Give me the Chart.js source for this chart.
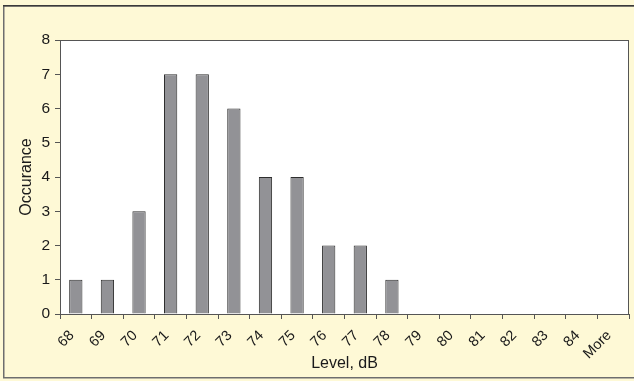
<!DOCTYPE html>
<html>
<head>
<meta charset="utf-8">
<script src="https://cdn.jsdelivr.net/npm/chart.js@4/dist/chart.umd.min.js"></script>
<style>
  html, body { margin: 0; padding: 0; background: #ffffff; }
  #wrap { width: 634px; height: 381px; }
  canvas { display: block; }
</style>
</head>
<body>
<div id="wrap"><canvas id="c" width="634" height="381"></canvas></div>
<script>
// Histogram of measured levels
const levels = ['68', '69', '70', '71', '72', '73', '74', '75', '76', '77', '78', '79', '80', '81', '82', '83', '84', 'More'];
const occurrences = [1, 1, 3, 7, 7, 6, 4, 4, 2, 2, 1, 0, 0, 0, 0, 0, 0, 0];
const yTicks = [0, 1, 2, 3, 4, 5, 6, 7, 8];

const FONT = "'Liberation Sans', Arial, sans-serif";
const TEXT = '#1a1a1a';

// Pale panel behind the whole chart, white plot area and the frames around both
const framePlugin = {
  id: 'frames',
  beforeDraw(chart) {
    const { ctx, chartArea: a } = chart;
    ctx.save();
    ctx.fillStyle = '#fef9d6';
    ctx.fillRect(0, 0, chart.width, chart.height);
    // panel frame runs off the right edge of the canvas
    ctx.strokeStyle = '#6e6e6e';
    ctx.lineWidth = 1.5;
    ctx.strokeRect(3.75, 5.75, chart.width + 10, chart.height - 9);
    ctx.strokeStyle = '#3a3a3a';
    ctx.beginPath();
    ctx.moveTo(3, 5.75);
    ctx.lineTo(chart.width, 5.75);
    ctx.stroke();
    ctx.fillStyle = '#ffffff';
    ctx.fillRect(a.left, a.top, a.right - a.left, a.bottom - a.top);
    ctx.restore();
  },
  afterDatasetsDraw(chart) {
    const { ctx, chartArea: a } = chart;
    ctx.save();
    ctx.strokeStyle = '#555555';
    ctx.lineWidth = 1;
    ctx.strokeRect(a.left + 0.5, a.top + 0.5, a.right - a.left - 1, a.bottom - a.top);
    ctx.restore();
  }
};

new Chart(document.getElementById('c'), {
  type: 'bar',
  data: {
    labels: levels,
    datasets: [{
      data: occurrences,
      backgroundColor: '#929296',
      borderColor: '#2e2e2e',
      borderWidth: 1,
      categoryPercentage: 1,
      barPercentage: 0.42
    }]
  },
  options: {
    responsive: false,
    animation: false,
    layout: { padding: { left: 0, top: 40, right: 5, bottom: 0 } },
    plugins: {
      legend: { display: false },
      tooltip: { enabled: false }
    },
    scales: {
      x: {
        afterFit(scale) { scale.height = 67; },
        grid: {
          display: true,
          drawOnChartArea: false,
          offset: true,
          tickLength: 5,
          color: '#555555'
        },
        border: { display: true, color: '#555555' },
        ticks: {
          autoSkip: false,
          maxRotation: 45,
          minRotation: 45,
          padding: 8,
          labelOffset: -4,
          color: TEXT,
          font: { family: FONT, size: 14.5 }
        },
        title: {
          display: true,
          text: 'Level, dB',
          color: TEXT,
          font: { family: FONT, size: 16 },
          padding: { top: 0, bottom: 8 }
        }
      },
      y: {
        min: 0,
        max: 8,
        afterFit(scale) { scale.width = 60; },
        afterBuildTicks(scale) { scale.ticks = yTicks.map(v => ({ value: v })); },
        grid: {
          display: true,
          drawOnChartArea: false,
          tickLength: 5,
          color: '#555555'
        },
        border: { display: true, color: '#555555' },
        ticks: {
          padding: 5,
          color: TEXT,
          font: { family: FONT, size: 15.5 }
        },
        title: {
          display: true,
          text: 'Occurance',
          color: TEXT,
          font: { family: FONT, size: 16 },
          padding: { top: 17, bottom: 0 }
        }
      }
    }
  },
  plugins: [framePlugin]
});
</script>
</body>
</html>
